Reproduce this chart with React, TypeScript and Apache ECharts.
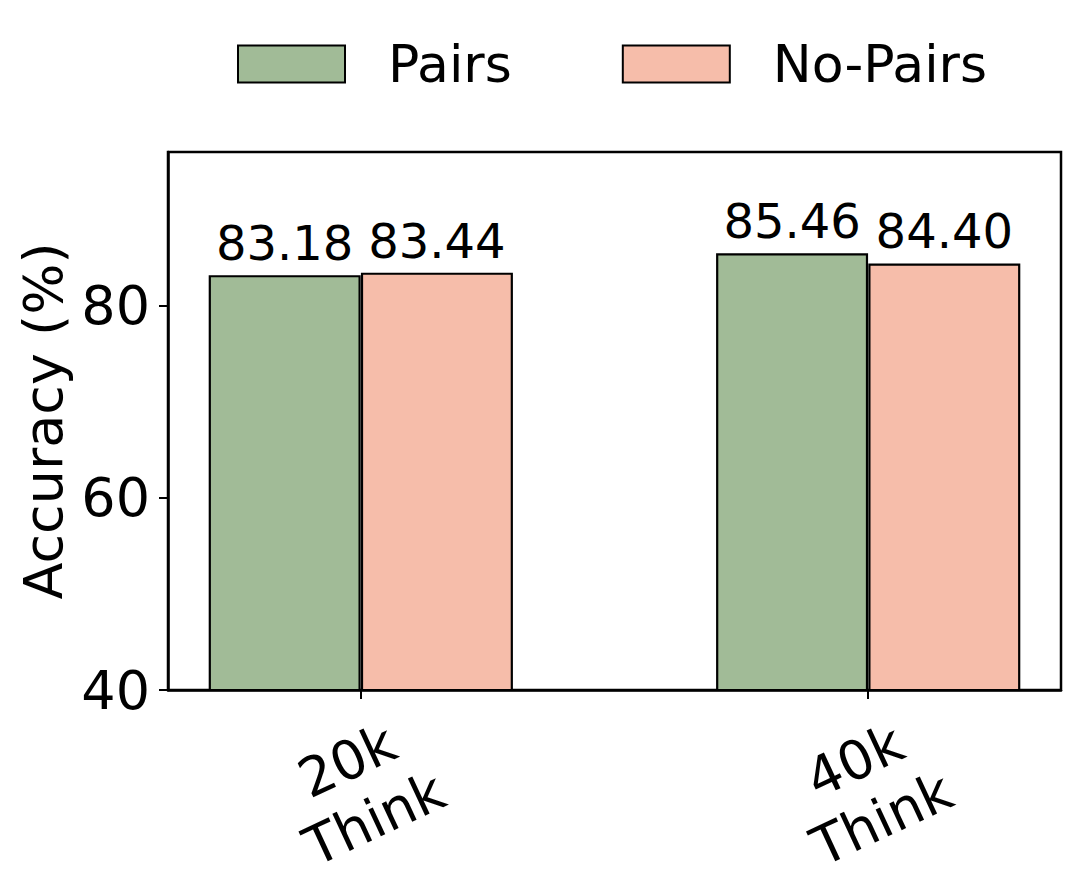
import React, { useEffect, useRef } from "react";
import * as echarts from "echarts";

const categories = ["20k\nThink", "40k\nThink"];
const seriesNames = ["Pairs", "No-Pairs"];
const pairsValues = [83.18, 85.46];
const noPairsValues = [83.44, 84.4];
const yTicks = [40, 60, 80];
const colors = ["#A1BB97", "#F6BDAA"];

const FONT = "DejaVu Sans";
const barOffset = 0.15;

export default function App() {
  const ref = useRef<HTMLDivElement>(null);
  useEffect(() => {
    if (!ref.current) return;
    const chart = echarts.init(ref.current, null, { renderer: "svg" });
    const mk = (vals: number[], off: number) => vals.map((v, i) => [i + off, v]);
    const label = {
      show: true,
      position: "top" as const,
      distance: 8,
      color: "#000",
      fontSize: 48,
      fontFamily: FONT,
      textBorderWidth: 0,
      textBorderColor: "transparent",
      formatter: (p: any) => p.value[1].toFixed(2),
    };
    chart.setOption({
      animation: false,
      textStyle: { fontFamily: FONT },
      legend: {
        left: 232,
        top: 33,
        itemWidth: 107,
        itemHeight: 37,
        itemGap: 110,
        icon: "rect",
        textStyle: { fontSize: 52, color: "#000", fontFamily: FONT, padding: [0, 0, 0, 38] },
        data: seriesNames,
      },
      grid: {
        left: 168,
        right: 19,
        top: 152,
        bottom: 195,
        show: true,
        borderColor: "#000",
        borderWidth: 2.5,
        backgroundColor: "transparent",
      },
      xAxis: {
        type: "value",
        min: -0.38,
        max: 1.38,
        splitLine: { show: false },
        axisLine: { show: true, onZero: false, lineStyle: { color: "#000", width: 2.5 } },
        axisTick: {
          show: true,
          length: 9,
          lineStyle: { color: "#000", width: 2 },
          customValues: categories.map((_, i) => i),
        },
        axisLabel: {
          customValues: categories.map((_, i) => i),
          formatter: (v: number) => categories[Math.round(v)] ?? "",
          rotate: 25,
          align: "center",
          verticalAlign: "middle",
          margin: 100,
          fontSize: 54,
          lineHeight: 64,
          color: "#000",
          fontFamily: FONT,
        },
      },
      yAxis: {
        type: "value",
        min: 40,
        max: 96,
        interval: 20,
        name: "Accuracy (%)",
        nameLocation: "middle",
        nameGap: 92,
        nameTextStyle: { fontSize: 54, color: "#000", fontFamily: FONT },
        splitLine: { show: false },
        axisLine: { show: true, onZero: false, lineStyle: { color: "#000", width: 2.5 } },
        axisTick: {
          show: true,
          length: 9,
          lineStyle: { color: "#000", width: 2 },
          customValues: yTicks,
        },
        axisLabel: {
          customValues: yTicks,
          margin: 18,
          fontSize: 54,
          color: "#000",
          fontFamily: FONT,
        },
      },
      series: [
        {
          name: seriesNames[0],
          type: "bar",
          data: mk(pairsValues, -barOffset),
          barWidth: 152,
          barGap: "-100%",
          itemStyle: { color: colors[0], borderColor: "#000", borderWidth: 2.2 },
          label,
        },
        {
          name: seriesNames[1],
          type: "bar",
          data: mk(noPairsValues, barOffset),
          barWidth: 152,
          barGap: "-100%",
          itemStyle: { color: colors[1], borderColor: "#000", borderWidth: 2.2 },
          label,
        },
      ],
    });
    return () => chart.dispose();
  }, []);
  return <div ref={ref} style={{ width: 1080, height: 885, position: "absolute", left: 0, top: 0 }} />;
}
